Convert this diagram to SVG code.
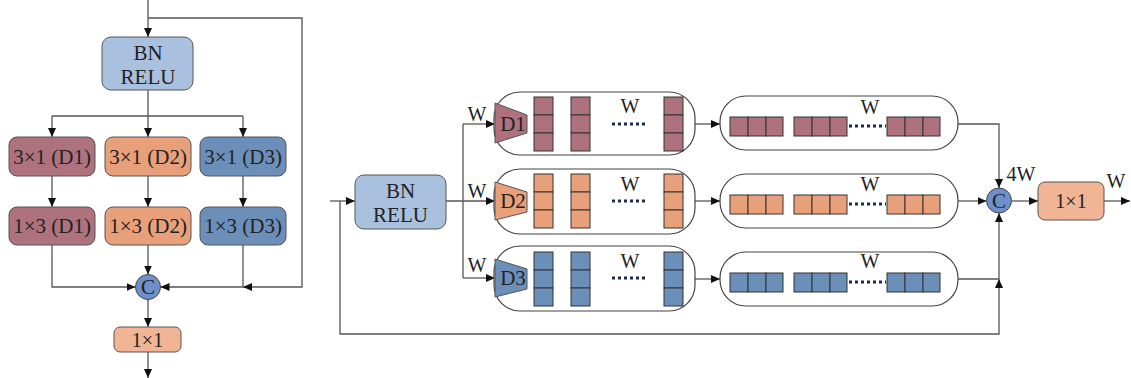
<svg xmlns="http://www.w3.org/2000/svg" width="1131" height="378" viewBox="0 0 1131 378">
<style>
text{font-family:"Liberation Serif","Times New Roman",serif;fill:#222;text-anchor:middle}
.t{font-size:21px}
.s{font-size:20px}
.box{stroke:#555;stroke-width:1}
.bn{fill:#a9c1de}
.d1{fill:#ad727d}
.d2{fill:#e8a07b}
.d3{fill:#6b8fb9}
.one{fill:#f1b596}
.cc{fill:#6e8fca;stroke:#444;stroke-width:1}
.pill{fill:#fff;stroke:#444;stroke-width:1.2}
.cell{stroke:#333;stroke-width:1}
.ln{fill:none;stroke:#555;stroke-width:1.3}
.dots{fill:none;stroke:#1b2a55;stroke-width:3;stroke-dasharray:3 3}
</style>
<defs>
<marker id="ah" markerUnits="userSpaceOnUse" markerWidth="9" markerHeight="8" refX="9" refY="4" orient="auto">
<path d="M0,0 L9,4 L0,8 z" fill="#111"/>
</marker>
<g id="vbar"><rect class="cell" x="0" y="0" width="19" height="18"/><rect class="cell" x="0" y="18" width="19" height="18"/><rect class="cell" x="0" y="36" width="19" height="18"/></g>
<g id="hbar"><rect class="cell" x="0" y="0" width="18" height="19"/><rect class="cell" x="18" y="0" width="18" height="19"/><rect class="cell" x="36" y="0" width="17" height="19"/></g>
</defs>

<g id="connectors">
<!-- left diagram -->
<path class="ln" d="M148,0 V37" marker-end="url(#ah)"/>
<path class="ln" d="M148,18 H302 V287 H243" marker-end="url(#ah)"/>
<path class="ln" d="M243,287 H160.5" marker-end="url(#ah)"/>
<path class="ln" d="M148,90 V137" marker-end="url(#ah)"/>
<path class="ln" d="M52,116 H243"/>
<path class="ln" d="M52,116 V137" marker-end="url(#ah)"/>
<path class="ln" d="M243,116 V137" marker-end="url(#ah)"/>
<path class="ln" d="M52,176 V207" marker-end="url(#ah)"/>
<path class="ln" d="M148,176 V207" marker-end="url(#ah)"/>
<path class="ln" d="M243,176 V207" marker-end="url(#ah)"/>
<path class="ln" d="M52,245 V287 H135.5" marker-end="url(#ah)"/>
<path class="ln" d="M148,245 V274.5" marker-end="url(#ah)"/>
<path class="ln" d="M243,245 V287"/>
<path class="ln" d="M148,299.5 V327" marker-end="url(#ah)"/>
<path class="ln" d="M148,352 V378" marker-end="url(#ah)"/>
<!-- right diagram -->
<path class="ln" d="M330,201 H355" marker-end="url(#ah)"/>
<path class="ln" d="M340,201 V334 H999 V279" marker-end="url(#ah)"/>
<path class="ln" d="M999,279 V213" marker-end="url(#ah)"/>
<path class="ln" d="M446,201 H495" marker-end="url(#ah)"/>
<path class="ln" d="M463,124 V278"/>
<path class="ln" d="M463,124 H495" marker-end="url(#ah)"/>
<path class="ln" d="M463,278 H495" marker-end="url(#ah)"/>
<path class="ln" d="M695,124 H720" marker-end="url(#ah)"/>
<path class="ln" d="M695,201 H720" marker-end="url(#ah)"/>
<path class="ln" d="M695,279 H720" marker-end="url(#ah)"/>
<path class="ln" d="M958,124 H999 V188" marker-end="url(#ah)"/>
<path class="ln" d="M958,201 H986.5" marker-end="url(#ah)"/>
<path class="ln" d="M958,279 H999"/>
<path class="ln" d="M1011.5,201 H1038" marker-end="url(#ah)"/>
<path class="ln" d="M1104,201 H1130" marker-end="url(#ah)"/>
</g>

<!-- left diagram nodes -->
<g id="bn-left"><rect class="box bn" x="102" y="37" width="91" height="53" rx="9"/><text class="t" x="148" y="60">BN</text><text class="t" x="148" y="84">RELU</text></g>
<g id="c31-d1"><rect class="box d1" x="9" y="137" width="86" height="39" rx="8"/><text class="t" x="52" y="164">3×1 (D1)</text></g>
<g id="c31-d2"><rect class="box d2" x="105" y="137" width="86" height="39" rx="8"/><text class="t" x="148" y="164">3×1 (D2)</text></g>
<g id="c31-d3"><rect class="box d3" x="200" y="137" width="86" height="39" rx="8"/><text class="t" x="243" y="164">3×1 (D3)</text></g>
<g id="c13-d1"><rect class="box d1" x="9" y="207" width="86" height="38" rx="8"/><text class="t" x="52" y="233">1×3 (D1)</text></g>
<g id="c13-d2"><rect class="box d2" x="105" y="207" width="86" height="38" rx="8"/><text class="t" x="148" y="233">1×3 (D2)</text></g>
<g id="c13-d3"><rect class="box d3" x="200" y="207" width="86" height="38" rx="8"/><text class="t" x="243" y="233">1×3 (D3)</text></g>
<g id="concat-left"><circle class="cc" cx="148" cy="287" r="12.5"/><text class="t" x="148" y="294">C</text></g>
<g id="one-left"><rect class="box one" x="114" y="327" width="67" height="25" rx="6"/><text class="s" x="147.5" y="347">1×1</text></g>

<!-- right diagram nodes -->
<g id="bn-right"><rect class="box bn" x="355" y="175" width="91" height="54" rx="9"/><text class="t" x="400.5" y="198">BN</text><text class="t" x="400.5" y="222">RELU</text></g>
<text class="s" x="477" y="121">W</text>
<text class="s" x="477" y="198">W</text>
<text class="s" x="477" y="272">W</text>

<g id="branch1">
<rect class="pill" x="494" y="92" width="201" height="63" rx="26"/>
<path class="box d1" d="M495,103 L527,115 L527,133 L495,143 z"/>
<text class="t" x="513" y="131">D1</text>
<g class="d1"><use href="#vbar" x="534" y="97"/><use href="#vbar" x="571" y="97"/><use href="#vbar" x="664" y="97"/></g>
<path class="dots" d="M612,124 H648"/>
<text class="s" x="630" y="113">W</text>
</g>
<g id="branch2">
<rect class="pill" x="494" y="169" width="201" height="65" rx="26"/>
<path class="box d2" d="M495,182 L527,192 L527,212 L495,220 z"/>
<text class="t" x="513" y="208">D2</text>
<g class="d2"><use href="#vbar" x="534" y="174"/><use href="#vbar" x="571" y="174"/><use href="#vbar" x="664" y="174"/></g>
<path class="dots" d="M612,201 H648"/>
<text class="s" x="630" y="191">W</text>
</g>
<g id="branch3">
<rect class="pill" x="494" y="246" width="201" height="65" rx="26"/>
<path class="box d3" d="M495,259 L527,269 L527,289 L495,297 z"/>
<text class="t" x="513" y="285">D3</text>
<g class="d3"><use href="#vbar" x="534" y="252"/><use href="#vbar" x="571" y="252"/><use href="#vbar" x="664" y="252"/></g>
<path class="dots" d="M612,278 H648"/>
<text class="s" x="630" y="268">W</text>
</g>

<g id="seq1">
<rect class="pill" x="720" y="96" width="238" height="54" rx="26"/>
<g class="d1"><use href="#hbar" x="730" y="117"/><use href="#hbar" x="794" y="117"/><use href="#hbar" x="887" y="117"/></g>
<path class="dots" d="M849,126 H886"/>
<text class="s" x="870" y="114">W</text>
</g>
<g id="seq2">
<rect class="pill" x="720" y="174" width="238" height="54" rx="26"/>
<g class="d2"><use href="#hbar" x="730" y="195"/><use href="#hbar" x="794" y="195"/><use href="#hbar" x="887" y="195"/></g>
<path class="dots" d="M849,204 H886"/>
<text class="s" x="870" y="191">W</text>
</g>
<g id="seq3">
<rect class="pill" x="720" y="252" width="238" height="54" rx="26"/>
<g class="d3"><use href="#hbar" x="730" y="273"/><use href="#hbar" x="794" y="273"/><use href="#hbar" x="887" y="273"/></g>
<path class="dots" d="M849,282 H886"/>
<text class="s" x="870" y="268">W</text>
</g>

<g id="concat-right"><circle class="cc" cx="999" cy="200.5" r="12.5"/><text class="t" x="999" y="208">C</text></g>
<text class="s" x="1021" y="181">4W</text>
<g id="one-right"><rect class="box one" x="1038" y="182" width="66" height="38" rx="7"/><text class="s" x="1071" y="208">1×1</text></g>
<text class="s" x="1116" y="188">W</text>
</svg>
